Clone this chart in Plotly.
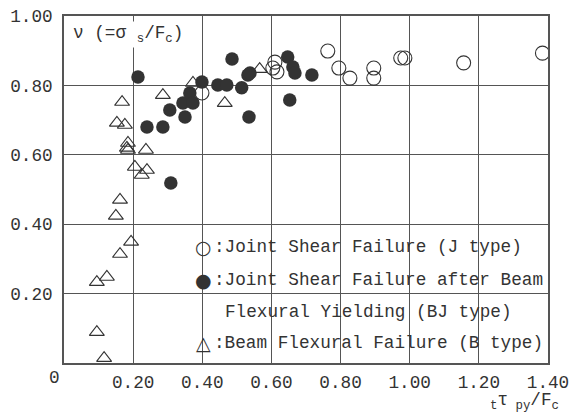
import plotly.graph_objects as go

# ---- data ----
j_x = [0.399, 0.610, 0.604, 0.616, 0.763, 0.795, 0.827, 0.896, 0.896, 0.974, 0.986, 1.156, 1.384]
j_y = [0.778, 0.867, 0.850, 0.839, 0.899, 0.850, 0.821, 0.850, 0.821, 0.879, 0.879, 0.865, 0.893]

bj_x = [0.214, 0.486, 0.240, 0.286, 0.309, 0.306, 0.344, 0.350, 0.364, 0.373, 0.399,
        0.445, 0.471, 0.514, 0.535, 0.532, 0.647, 0.662, 0.668, 0.653, 0.717, 0.538]
bj_y = [0.824, 0.876, 0.680, 0.680, 0.519, 0.729, 0.749, 0.709, 0.778, 0.749, 0.810,
        0.801, 0.801, 0.793, 0.709, 0.830, 0.882, 0.853, 0.836, 0.758, 0.830, 0.836]

b_x = [0.168, 0.153, 0.176, 0.185, 0.182, 0.185, 0.237, 0.205, 0.240, 0.225, 0.286,
       0.373, 0.465, 0.566, 0.162, 0.150, 0.194, 0.162, 0.124, 0.095, 0.095, 0.116]
b_y = [0.752, 0.692, 0.686, 0.634, 0.620, 0.614, 0.614, 0.565, 0.556, 0.542, 0.772,
       0.807, 0.749, 0.847, 0.470, 0.424, 0.349, 0.314, 0.248, 0.233, 0.089, 0.014]

x_ticks = [0.2, 0.4, 0.6, 0.8, 1.0, 1.2, 1.4]
x_ticktext = ["0.20", "0.40", "0.60", "0.80", "1.00", "1.20", "1.40"]
y_ticks = [0.2, 0.4, 0.6, 0.8, 1.0]
y_ticktext = ["0.20", "0.40", "0.60", "0.80", "1.00"]

legend_labels = [":Joint Shear Failure (J type)",
                 ":Joint Shear Failure after Beam",
                 "Flexural Yielding (BJ type)",
                 ":Beam Flexural Failure (B type)"]

# ---- layout helpers ----
W, H = 580, 414
L, R, T, B = 64, 548, 16, 363
def px(xp):
    return (xp - L) / (R - L)
def py(yp):
    return (B - yp) / (B - T)

INK = "#333333"
LINE = "#555555"
MONO = "Liberation Mono"
FS = 17.7

fig = go.Figure()
fig.add_trace(go.Scatter(x=j_x, y=j_y, mode="markers", cliponaxis=False,
                         marker=dict(symbol="circle-open", size=14, color=INK, line=dict(width=1.1, color=INK)),
                         showlegend=False))
fig.add_trace(go.Scatter(x=bj_x, y=bj_y, mode="markers", cliponaxis=False,
                         marker=dict(symbol="circle", size=13.5, color=INK, line=dict(width=0)),
                         showlegend=False))
fig.add_trace(go.Scatter(x=b_x, y=b_y, mode="markers", cliponaxis=False,
                         marker=dict(symbol="triangle-up-open", size=13, color=INK, line=dict(width=1.1, color=INK)),
                         showlegend=False))

# white legend panel covering grid lines
fig.add_shape(type="rect", xref="paper", yref="paper", x0=px(185), x1=1, y0=0, y1=py(226),
              fillcolor="white", line=dict(width=0), layer="between")

ann = []
sym_x = px(203)
txt_x = px(212)
rows = [247, 280, 312, 343]
symbols = ["○", "●", None, "△"]
for i, (lab, yy) in enumerate(zip(legend_labels, rows)):
    if symbols[i]:
        ann.append(dict(xref="paper", yref="paper", x=sym_x, y=py(yy), text=symbols[i],
                        showarrow=False, xanchor="center", yanchor="middle",
                        font=dict(family="DejaVu Sans", size=19, color=INK)))
    ann.append(dict(xref="paper", yref="paper", x=txt_x if symbols[i] else px(223), y=py(yy), text=lab,
                    showarrow=False, xanchor="left", yanchor="middle",
                    font=dict(family=MONO, size=FS, color=INK)))

# y-axis label inside the plot
ann.append(dict(xref="paper", yref="paper", x=px(71), y=py(35), text="ν (=σ <sub>s</sub>/F<sub>c</sub>)",
                showarrow=False, xanchor="left", yanchor="middle", bgcolor="white", borderpad=1,
                font=dict(family=MONO, size=FS, color=INK)))
# x-axis label
ann.append(dict(xref="paper", yref="paper", x=px(488), y=py(401), text="<sub>t</sub>τ<sub> py</sub>/F<sub>c</sub>",
                showarrow=False, xanchor="left", yanchor="middle",
                font=dict(family=MONO, size=FS, color=INK)))
# origin label
ann.append(dict(xref="paper", yref="paper", x=px(54), y=py(378), text="0",
                showarrow=False, xanchor="center", yanchor="middle",
                font=dict(family=MONO, size=FS, color=INK)))

fig.update_layout(
    width=W, height=H,
    margin=dict(l=L, r=W - R, t=T, b=H - B, pad=0, autoexpand=False),
    paper_bgcolor="white", plot_bgcolor="white",
    annotations=ann, showlegend=False,
    xaxis=dict(range=[0, 1.4], tickvals=x_ticks, ticktext=x_ticktext, showgrid=True, automargin=False,
               gridcolor=LINE, gridwidth=1, zeroline=False, showline=True, mirror=True,
               linecolor=LINE, linewidth=1.5, ticks="inside", ticklen=8, tickcolor=LINE,
               tickwidth=1, ticklabelstandoff=2,
               tickfont=dict(family=MONO, size=FS, color=INK), fixedrange=True),
    yaxis=dict(range=[0, 1.0], tickvals=y_ticks, ticktext=y_ticktext, showgrid=True, automargin=False,
               gridcolor=LINE, gridwidth=1, zeroline=False, showline=True, mirror=True,
               linecolor=LINE, linewidth=1.5, ticks="", ticklabelstandoff=6,
               tickfont=dict(family=MONO, size=FS, color=INK), fixedrange=True),
)

fig.write_html("out.html", config={"displayModeBar": False},
               post_script="document.body.style.margin='0';document.body.style.padding='0';")
